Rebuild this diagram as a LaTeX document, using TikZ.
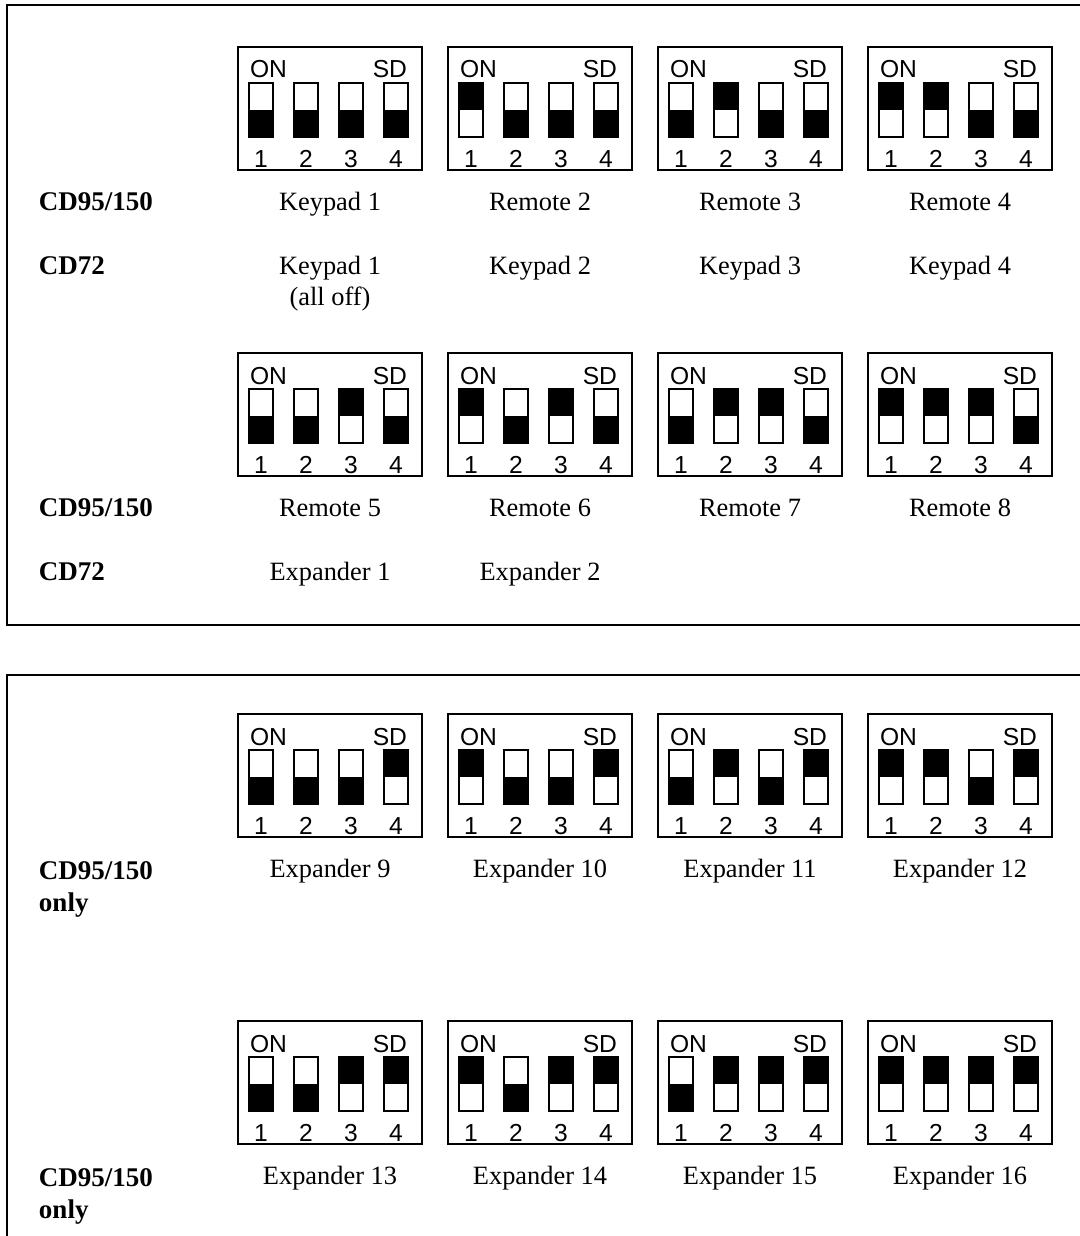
\documentclass[tikz,border=0pt]{standalone}
\usepackage{fontspec}
\setmainfont{Liberation Serif}
\newfontfamily\swfont{Liberation Sans}
\usepackage{tikz}
\definecolor{white}{RGB}{255,255,255}
\definecolor{black}{RGB}{0,0,0}

\begin{document}
\begin{tikzpicture}[x=0.5pt,y=-0.5pt,line width=1pt,
	swtext/.style={inner sep=0pt,font=\swfont\fontsize{12.3}{14}\selectfont},
	lbl/.style={inner sep=0pt,font=\fontsize{13.2}{15.5}\selectfont},
	head/.style={inner sep=0pt,align=left,font=\bfseries\fontsize{13.5}{16}\selectfont}]
	\useasboundingbox (0,0) rectangle (1080,1236);
	\clip (0,0) rectangle (1080,1236);
	\fill[white] (0,0) rectangle (1080,1236);

	% the two frames
	\draw[black] (7,5) rectangle (1100,625);
	\draw[black] (7,675) rectangle (1100,1260);

	% dip switch blocks: left/top/switch 1..4 (1 = on)
	\foreach \L/\T/\sa/\sb/\sc/\sd [count=\k] in {
		238/47/0/0/0/0, 448/47/1/0/0/0, 658/47/0/1/0/0, 868/47/1/1/0/0,
		238/353/0/0/1/0, 448/353/1/0/1/0, 658/353/0/1/1/0, 868/353/1/1/1/0,
		238/714/0/0/0/1, 448/714/1/0/0/1, 658/714/0/1/0/1, 868/714/1/1/0/1,
		238/1021/0/0/1/1, 448/1021/1/0/1/1, 658/1021/0/1/1/1, 868/1021/1/1/1/1}
	{
		\draw[black] (\L,\T) rectangle (\L+184,\T+123);
		\node[swtext,anchor=base west] (on\k) at (\L+11,\T+31) {ON};
		\node[swtext,anchor=base east] (sd\k) at (\L+170,\T+31) {SD};
		\foreach \i/\s in {1/\sa,2/\sb,3/\sc,4/\sd} {
			\ifnum\s=1
				\fill[black] (\L+11+45*\i-45,\T+36) rectangle (\L+35+45*\i-45,\T+63);
			\else
				\fill[black] (\L+11+45*\i-45,\T+63) rectangle (\L+35+45*\i-45,\T+90);
			\fi
			\draw[black] (\L+11+45*\i-45,\T+36) rectangle (\L+35+45*\i-45,\T+90);
			\node[swtext,anchor=base] (num\k-\i) at (\L+23+45*\i-45,\T+120) {\i};
		}
	}

	% names under the blocks
	\foreach \L/\T/\txt [count=\k] in {
		238/47/Keypad 1, 448/47/Remote 2, 658/47/Remote 3, 868/47/Remote 4,
		448/111/Keypad 2, 658/111/Keypad 3, 868/111/Keypad 4,
		238/353/Remote 5, 448/353/Remote 6, 658/353/Remote 7, 868/353/Remote 8,
		238/417/Expander 1, 448/417/Expander 2,
		238/714/Expander 9, 448/714/Expander 10, 658/714/Expander 11, 868/714/Expander 12,
		238/1021/Expander 13, 448/1021/Expander 14, 658/1021/Expander 15, 868/1021/Expander 16}
		\node[lbl,anchor=base] (name\k) at (\L+92,\T+163) {\txt};
	\node[lbl,anchor=north,align=center] (keypadoff) at (330,255) {Keypad 1\\(all off)};

	% row headings
	\node[head,anchor=base west] (cdA) at (38,210) {CD95/150};
	\node[head,anchor=base west] (cdB) at (38,274) {CD72};
	\node[head,anchor=base west] (cdC) at (38,516) {CD95/150};
	\node[head,anchor=base west] (cdD) at (38,580) {CD72};
	\node[head,anchor=north west] (cdE) at (38,861) {CD95/150\\only};
	\node[head,anchor=north west] (cdF) at (38,1168) {CD95/150\\only};
\end{tikzpicture}
\end{document}
